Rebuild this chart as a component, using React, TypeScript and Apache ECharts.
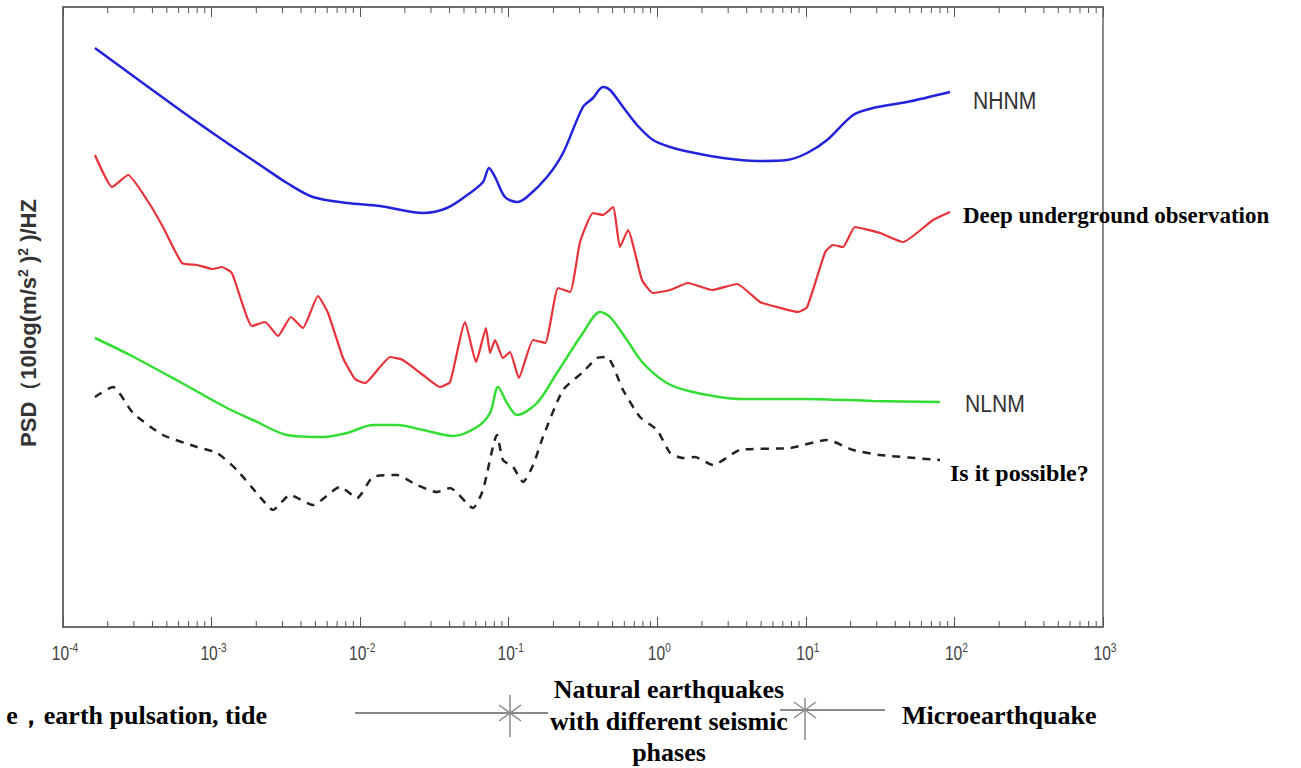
import React, { useEffect, useRef } from "react";
import * as echarts from "echarts";

// ---- Data (frequency in Hz, PSD in dB) ----
const nhnmFreq = [1.64e-4, 6.13e-4, 1.19e-3, 2.22e-3, 3.22e-3, 4.81e-3, 8.16e-3, 0.0136, 0.0265, 0.0384, 0.0549, 0.0671, 0.0737, 0.0809, 0.0944, 0.1137, 0.1328, 0.181, 0.232, 0.316, 0.369, 0.431, 0.481, 0.588, 0.73, 0.936, 1.22, 1.66, 2.77, 4.69, 7.47, 10.2, 13.9, 20.8, 28.3, 48.0, 93.4];
const nhnmPsd = [-84.2, -96.6, -102.6, -108, -111.2, -114, -115.2, -115.8, -117.2, -116.2, -113.2, -111, -108.2, -110, -114, -115, -114, -110, -105.2, -96, -94.2, -92, -92.6, -96, -99.6, -102.6, -104, -105, -106.2, -106.8, -106.6, -105.2, -102.6, -97.6, -96.2, -95, -93];

const deepFreq = [1.64e-4, 2.14e-4, 2.74e-4, 3.68e-4, 4.71e-4, 6.32e-4, 7.98e-4, 1.02e-3, 1.17e-3, 1.37e-3, 1.87e-3, 2.29e-3, 2.8e-3, 3.42e-3, 4.12e-3, 5.2e-3, 6.08e-3, 7.67e-3, 9.23e-3, 0.0108, 0.0136, 0.0159, 0.0194, 0.0265, 0.0345, 0.0403, 0.0508, 0.0603, 0.0703, 0.0748, 0.0809, 0.0915, 0.102, 0.117, 0.146, 0.176, 0.215, 0.259, 0.302, 0.369, 0.431, 0.504, 0.561, 0.635, 0.789, 0.936, 1.22, 1.61, 2.34, 3.44, 4.91, 6.4, 8.86, 10.2, 13.5, 15.2, 17.8, 21.4, 31.6, 45.1, 71.8, 93.4];
const deepPsd = [-105.6, -112, -109.6, -114.6, -120, -127.2, -127.6, -128.4, -128, -129.2, -139.8, -139, -141.8, -138, -140.2, -133.8, -137.2, -146.2, -150.4, -151.2, -148, -146, -146.6, -149.6, -152, -151, -139, -147, -140.2, -145.2, -142.6, -146.2, -145, -150.2, -142.6, -143.2, -132.2, -133, -123, -117.2, -117.6, -116, -124, -120.6, -130.6, -133.2, -132.6, -131.2, -132.6, -131.4, -135, -136, -137, -136, -125, -123.6, -124, -120, -121.2, -123, -118.6, -117];

const nlnmFreq = [1.64e-4, 2.82e-4, 6.13e-4, 1.27e-3, 1.9e-3, 3.22e-3, 5.62e-3, 8.16e-3, 0.0122, 0.0177, 0.0265, 0.0422, 0.0612, 0.0748, 0.0847, 0.0974, 0.1137, 0.155, 0.211, 0.316, 0.412, 0.481, 0.625, 0.802, 1.16, 1.74, 3.6, 10.2, 28.3, 80.0];
const nlnmPsd = [-142.2, -145.6, -151, -156.2, -158.6, -161.6, -162, -161.2, -159.6, -159.6, -160.6, -161.8, -160, -157.2, -152, -155.2, -157.6, -155.2, -149.2, -141.2, -137, -138, -142.6, -147.2, -151.2, -153, -154.4, -154.4, -154.8, -155];

const possFreq = [1.64e-4, 2.17e-4, 2.96e-4, 4.71e-4, 7.98e-4, 1.09e-3, 1.48e-3, 2.12e-3, 2.59e-3, 3.37e-3, 4.81e-3, 7.32e-3, 9.53e-3, 0.0122, 0.0177, 0.0241, 0.0329, 0.0403, 0.0575, 0.0671, 0.0834, 0.0915, 0.107, 0.125, 0.146, 0.17, 0.232, 0.316, 0.393, 0.459, 0.588, 0.765, 0.996, 1.22, 1.49, 1.79, 2.37, 3.6, 7.82, 13.9, 20.8, 31.6, 80.0];
const possPsd = [-154, -152, -157.2, -161.6, -164, -165.2, -168.6, -174, -176.6, -173.6, -175.6, -172, -174.2, -170, -169.6, -171.6, -173, -172.2, -176.2, -172.6, -161.6, -166.6, -168, -171, -167.6, -162, -152.6, -149, -146.2, -146, -152.6, -158, -160.6, -165.2, -166.2, -166, -167.6, -164.6, -164.2, -162.6, -164.6, -165.6, -166.6];

// axis ticks (decade exponents and minor-tick mantissas)
const decades = [-4, -3, -2, -1, 0, 1, 2, 3];
const minorMantissas = [2, 3, 4, 5, 6, 7, 8, 9];

const Y_MIN = -200;
const Y_MAX = -76;

const SANS = "'Liberation Sans', Arial, Helvetica, sans-serif";
const SERIF = "'Liberation Serif', 'Times New Roman', Times, serif";

export default function App() {
  const ref = useRef<HTMLDivElement>(null);

  useEffect(() => {
    const chart = echarts.init(ref.current as HTMLDivElement, null, { renderer: "svg" });
    const zip = (f: number[], v: number[]) => f.map((x, i) => [x, v[i]]);

    const minorTicks: number[][] = [];
    decades.slice(0, -1).forEach((d) =>
      minorMantissas.forEach((m) => minorTicks.push([m * Math.pow(10, d), Y_MIN]))
    );
    const majorLabels = decades.map((d) => [Math.pow(10, d), Y_MIN, d]);

    const tickColor = "#555";
    const gray = "#8a8a8a";

    const asterisk = (cx: number, cy: number, top: number, bottom: number) => [
      { type: "line", shape: { x1: cx, y1: top, x2: cx, y2: bottom }, style: { stroke: gray, lineWidth: 1.5 } },
      { type: "line", shape: { x1: cx - 11, y1: cy - 8, x2: cx + 11, y2: cy + 8 }, style: { stroke: gray, lineWidth: 1.5 } },
      { type: "line", shape: { x1: cx - 11, y1: cy + 8, x2: cx + 11, y2: cy - 8 }, style: { stroke: gray, lineWidth: 1.5 } },
    ];

    const txt = (text: string, x: number, y: number, font: string, align: string, fill = "#000", scaleX = 1) => ({
      type: "text",
      x,
      y,
      scaleX,
      style: {
        text,
        font,
        fill,
        align,
        verticalAlign: "middle",
        textAlign: align,
        textVerticalAlign: "middle",
      },
    });

    const option: any = {
      animation: false,
      backgroundColor: "#fff",
      grid: {
        left: 63,
        top: 7,
        width: 1040,
        height: 620,
        show: true,
        borderColor: "#666",
        borderWidth: 1.5,
        backgroundColor: "transparent",
      },
      xAxis: [
        {
          type: "log",
          logBase: 10,
          min: 1e-4,
          max: 1e3,
          position: "bottom",
          splitLine: { show: false },
          axisLine: { show: true, lineStyle: { color: "#666", width: 1.5 } },
          axisTick: { show: true, inside: true, length: 10, lineStyle: { color: tickColor, width: 1 } },
          axisLabel: { show: false },
        },
        {
          type: "log",
          logBase: 10,
          min: 1e-4,
          max: 1e3,
          position: "top",
          splitLine: { show: false },
          axisLine: { show: true, lineStyle: { color: "#666", width: 1.5 } },
          axisTick: { show: true, inside: true, length: 10, lineStyle: { color: tickColor, width: 1 } },
          axisLabel: { show: false },
        },
      ],
      yAxis: {
        type: "value",
        min: Y_MIN,
        max: Y_MAX,
        splitLine: { show: false },
        axisTick: { show: false },
        axisLabel: { show: false },
        axisLine: { show: true, lineStyle: { color: "#666", width: 1.5 } },
      },
      series: [
        {
          name: "NHNM",
          type: "line",
          data: zip(nhnmFreq, nhnmPsd),
          showSymbol: false,
          smooth: 0.3,
          lineStyle: { color: "#2323dc", width: 2.5 },
        },
        {
          name: "Deep underground observation",
          type: "line",
          data: zip(deepFreq, deepPsd),
          showSymbol: false,
          smooth: 0.15,
          lineStyle: { color: "#e8323a", width: 2.2 },
        },
        {
          name: "NLNM",
          type: "line",
          data: zip(nlnmFreq, nlnmPsd),
          showSymbol: false,
          smooth: 0.3,
          lineStyle: { color: "#33dd33", width: 2.5 },
        },
        {
          name: "Is it possible?",
          type: "line",
          data: zip(possFreq, possPsd),
          showSymbol: false,
          smooth: 0.2,
          lineStyle: { color: "#222", width: 2.5, type: [8, 7] },
        },
        {
          name: "minor ticks",
          type: "custom",
          silent: true,
          clip: false,
          data: minorTicks,
          encode: { x: 0, y: 1 },
          renderItem: (_p: any, api: any) => {
            const x = api.value(0);
            const b = api.coord([x, Y_MIN]);
            const t = api.coord([x, Y_MAX]);
            return {
              type: "group",
              children: [
                { type: "line", shape: { x1: b[0], y1: b[1], x2: b[0], y2: b[1] - 6 }, style: { stroke: tickColor, lineWidth: 1 } },
                { type: "line", shape: { x1: t[0], y1: t[1], x2: t[0], y2: t[1] + 6 }, style: { stroke: tickColor, lineWidth: 1 } },
              ],
            };
          },
        },
        {
          name: "decade labels",
          type: "custom",
          silent: true,
          clip: false,
          data: majorLabels,
          encode: { x: 0, y: 1 },
          renderItem: (_p: any, api: any) => {
            const x = api.value(0);
            const e = api.value(2);
            const b = api.coord([x, Y_MIN]);
            return {
              type: "text",
              x: b[0] + 2,
              y: b[1] + 26,
              scaleX: 0.78,
              style: {
                text: `{b|10}{sup|${e}}`,
                fill: "#444",
                align: "center",
                verticalAlign: "middle",
                rich: {
                  b: { fontSize: 20, fontFamily: SANS, fill: "#444" },
                  sup: { fontSize: 13, fontFamily: SANS, fill: "#444", padding: [0, 0, 12, 0] },
                },
              },
            };
          },
        },
      ],
      graphic: [
        {
          type: "text",
          x: 28,
          y: 323,
          rotation: Math.PI / 2,
          style: {
            text: "PSD（10log(m/s{s|2} ){s|2} )/HZ",
            font: `bold 22px ${SANS}`,
            fill: "#333",
            align: "center",
            verticalAlign: "middle",
            textAlign: "center",
            textVerticalAlign: "middle",
            rich: {
              s: { fontSize: 14, fontWeight: "bold", fontFamily: SANS, fill: "#333", padding: [0, 0, 11, 0] },
            },
          },
        },
        txt("NHNM", 973, 101, `24px ${SANS}`, "left", "#333", 0.88),
        txt("Deep underground observation", 963, 215, `bold 23px ${SERIF}`, "left"),
        txt("NLNM", 965, 404, `24px ${SANS}`, "left", "#333", 0.88),
        txt("Is it possible?", 950, 473, `bold 24px ${SERIF}`, "left"),
        txt("e，earth pulsation, tide", 267, 715, `bold 26px ${SERIF}`, "right"),
        txt("Natural earthquakes", 669, 689, `bold 26px ${SERIF}`, "center"),
        txt("with different seismic", 669, 721, `bold 26px ${SERIF}`, "center"),
        txt("phases", 669, 752, `bold 26px ${SERIF}`, "center"),
        txt("Microearthquake", 902, 715, `bold 26px ${SERIF}`, "left"),
        { type: "line", shape: { x1: 355, y1: 713, x2: 548, y2: 713 }, style: { stroke: gray, lineWidth: 2 } },
        { type: "line", shape: { x1: 780, y1: 710, x2: 885, y2: 710 }, style: { stroke: gray, lineWidth: 2 } },
        ...asterisk(510, 713, 695, 737),
        ...asterisk(805, 710, 698, 740),
      ],
    };

    chart.setOption(option);
    return () => chart.dispose();
  }, []);

  return (
    <div
      ref={ref}
      style={{ position: "fixed", left: 0, top: 0, width: 1301, height: 768, background: "#fff" }}
    />
  );
}
